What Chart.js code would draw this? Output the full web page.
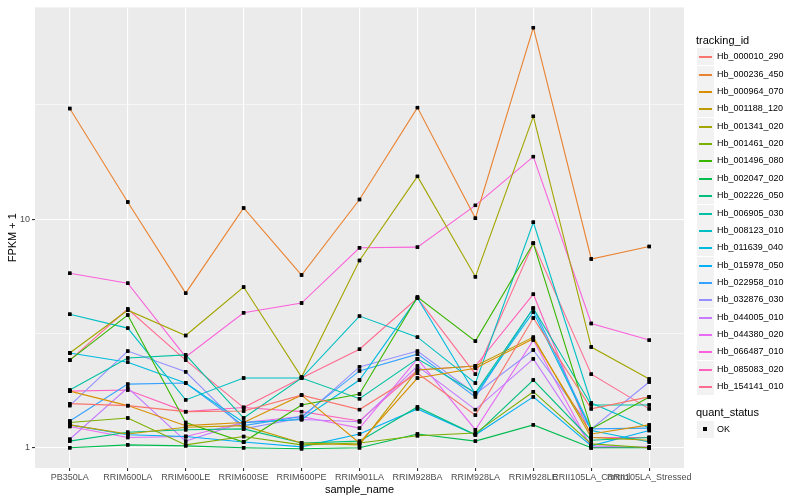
<!DOCTYPE html>
<html>
<head>
<meta charset="utf-8">
<script src="https://cdn.jsdelivr.net/npm/chart.js@4.4.1/dist/chart.umd.min.js"></script>
<style>
html, body { margin: 0; padding: 0; background: #fff; }
#wrap { position: relative; width: 800px; height: 500px; font-family: "Liberation Sans", Arial, sans-serif; }
#chart { position: absolute; left: 0; top: 0; }
.ttl { position: absolute; left: 696px; font-size: 11px; line-height: 13px; color: #000; white-space: nowrap; }
.key { position: absolute; left: 697px; width: 17px; height: 17px; background: #F2F2F2; }
.key span { position: absolute; left: 2px; right: 2px; top: 8px; height: 1.5px; }
.key b { position: absolute; left: 6px; top: 6px; width: 4px; height: 4px; background: #000; }
.lab { position: absolute; left: 717px; font-size: 9px; line-height: 12px; color: #000; white-space: nowrap; }
</style>
</head>
<body>
<div id="wrap">
  <canvas id="chart" width="800" height="500"></canvas>
  <div id="legend"></div>
</div>
<script>
/* data */
const categories = ['PB350LA', 'RRIM600LA', 'RRIM600LE', 'RRIM600SE', 'RRIM600PE', 'RRIM901LA',
  'RRIM928BA', 'RRIM928LA', 'RRIM928LE', 'RRII105LA_Control', 'RRII105LA_Stressed'];

const hb_000010_290 = [1.56, 1.53, 1.44, 1.45, 1.70, 1.47, 2.12, 1.39, 3.70, 1.48, 1.67];
const hb_000236_450 = [30.5, 11.9, 4.75, 11.2, 5.7, 12.2, 30.8, 10.1, 68.9, 6.7, 7.6];
const hb_000964_070 = [1.77, 1.53, 1.25, 1.29, 1.70, 1.05, 2.02, 2.23, 3.00, 1.15, 1.26];
const hb_001188_120 = [1.26, 1.15, 1.23, 1.25, 1.05, 1.03, 2.19, 2.28, 3.05, 1.11, 1.08];
const hb_001341_020 = [2.60, 4.00, 3.10, 5.05, 2.04, 6.6, 15.4, 5.6, 28.2, 2.76, 2.00];
const hb_001461_020 = [1.29, 1.35, 1.03, 1.12, 1.03, 1.05, 1.13, 1.16, 1.76, 1.04, 1.00];
const hb_001496_080 = [2.42, 3.81, 1.29, 1.06, 1.54, 1.72, 4.57, 2.93, 7.85, 1.21, 1.67];
const hb_002047_020 = [1.00, 1.03, 1.02, 1.00, 0.99, 1.00, 1.15, 1.07, 1.26, 1.00, 1.00];
const hb_002226_050 = [1.07, 1.17, 1.20, 1.21, 1.05, 1.07, 1.51, 1.14, 1.98, 1.08, 1.11];
const hb_006905_030 = [1.79, 2.47, 2.55, 1.35, 2.02, 1.64, 2.45, 1.74, 4.08, 1.54, 1.54];
const hb_008123_010 = [3.84, 3.34, 1.62, 2.02, 2.02, 3.77, 3.05, 1.92, 9.7, 1.57, 1.22];
const hb_011639_040 = [2.60, 2.37, 1.92, 1.29, 1.33, 1.98, 4.52, 1.72, 3.93, 1.19, 1.06];
const hb_015978_050 = [1.26, 1.14, 1.12, 1.06, 1.01, 1.15, 1.48, 1.14, 1.67, 1.02, 1.19];
const hb_022958_010 = [1.31, 1.90, 1.92, 1.25, 1.37, 2.17, 2.57, 1.67, 4.08, 1.21, 1.22];
const hb_032876_030 = [1.53, 2.65, 2.15, 1.21, 1.35, 2.26, 2.65, 1.72, 2.68, 1.21, 1.94];
const hb_044005_010 = [1.09, 1.83, 1.07, 1.29, 1.33, 1.30, 2.28, 1.47, 2.45, 1.02, 1.00];
const hb_044380_020 = [1.24, 1.11, 1.12, 1.29, 1.37, 1.22, 2.45, 1.20, 2.96, 1.00, 1.01];
const hb_066487_010 = [5.8, 5.25, 2.50, 3.90, 4.30, 7.5, 7.55, 11.5, 18.8, 3.50, 2.96];
const hb_085083_020 = [1.77, 1.79, 1.44, 1.50, 1.44, 1.31, 2.19, 2.28, 4.70, 1.11, 1.11];
const hb_154141_010 = [2.42, 4.05, 2.42, 1.50, 2.02, 2.70, 4.52, 2.10, 7.85, 2.10, 1.48];

const trackingIds = ['Hb_000010_290', 'Hb_000236_450', 'Hb_000964_070', 'Hb_001188_120', 'Hb_001341_020',
  'Hb_001461_020', 'Hb_001496_080', 'Hb_002047_020', 'Hb_002226_050', 'Hb_006905_030',
  'Hb_008123_010', 'Hb_011639_040', 'Hb_015978_050', 'Hb_022958_010', 'Hb_032876_030',
  'Hb_044005_010', 'Hb_044380_020', 'Hb_066487_010', 'Hb_085083_020', 'Hb_154141_010'];
const seriesValues = [hb_000010_290, hb_000236_450, hb_000964_070, hb_001188_120, hb_001341_020,
  hb_001461_020, hb_001496_080, hb_002047_020, hb_002226_050, hb_006905_030,
  hb_008123_010, hb_011639_040, hb_015978_050, hb_022958_010, hb_032876_030,
  hb_044005_010, hb_044380_020, hb_066487_010, hb_085083_020, hb_154141_010];

const yTickValues = [1, 10];
const yMinorValues = [Math.sqrt(10), Math.sqrt(1000)];
const quantStatus = ['OK'];

/* ggplot hue palette */
const palette = ['#F8766D', '#EA8331', '#D89000', '#C09B00', '#A3A500', '#7CAE00', '#39B600', '#00BB4E',
  '#00BF7D', '#00C1A3', '#00BFC4', '#00BAE0', '#00B0F6', '#35A2FF', '#9590FF', '#C77CFF',
  '#E76BF3', '#FA62DB', '#FF62BC', '#FF6C91'];

const FONT = '"Liberation Sans", Arial, sans-serif';

const datasets = trackingIds.map((id, k) => ({
  label: id,
  data: seriesValues[k].map((v, i) => ({ x: i, y: v })),
  borderColor: palette[k],
  borderWidth: 1.1,
  pointStyle: 'rect',
  pointRadius: 2.4,
  pointBackgroundColor: '#000',
  pointBorderWidth: 0,
  tension: 0,
  fill: false,
}));

// grey panel behind the plot
const panelBg = {
  id: 'panelBg',
  beforeDraw(chart) {
    const { ctx, chartArea: a } = chart;
    ctx.save();
    ctx.fillStyle = '#EBEBEB';
    ctx.fillRect(a.left, a.top, a.right - a.left, a.bottom - a.top);
    ctx.restore();
  }
};

// points go on top of every line, like geom_point after geom_line
const pointsOnTop = {
  id: 'pointsOnTop',
  afterDatasetsDraw(chart) {
    const ctx = chart.ctx;
    chart.data.datasets.forEach((d, k) => {
      chart.getDatasetMeta(k).data.forEach(p => p.draw(ctx));
    });
  }
};

new Chart(document.getElementById('chart'), {
  type: 'line',
  data: { datasets },
  plugins: [panelBg, pointsOnTop],
  options: {
    responsive: false,
    animation: false,
    layout: { padding: { left: 0, right: 116, top: 5, bottom: 0 } },
    plugins: { legend: { display: false }, tooltip: { enabled: false } },
    scales: {
      x: {
        type: 'linear',
        bounds: 'data',
        min: -0.6,
        max: categories.length - 0.4,
        afterBuildTicks: s => { s.ticks = categories.map((c, i) => ({ value: i })); },
        afterFit: s => { s.height = 32; },
        ticks: {
          autoSkip: false, maxRotation: 0, minRotation: 0, padding: 1,
          color: '#4D4D4D', font: { family: FONT, size: 9 },
          callback: v => categories[v],
        },
        grid: { color: '#FFFFFF', lineWidth: 1.1, tickColor: '#333333', tickLength: 3 },
        border: { display: false },
        title: { display: true, text: 'sample_name', color: '#000', font: { family: FONT, size: 11 },
          padding: { top: 0, bottom: 3 } },
      },
      y: {
        type: 'logarithmic',
        bounds: 'data',
        min: 0.816,
        max: 84.5,
        afterBuildTicks: s => {
          s.ticks = [...yTickValues, ...yMinorValues].sort((a, b) => a - b).map(v => ({ value: v }));
        },
        afterFit: s => { s.width = 35; },
        ticks: {
          autoSkip: false, padding: 2,
          color: '#4D4D4D', font: { family: FONT, size: 9 },
          callback: v => yTickValues.includes(v) ? String(v) : '',
        },
        grid: {
          color: '#FFFFFF',
          lineWidth: c => yTickValues.includes(c.tick && c.tick.value) ? 1.1 : 0.55,
          tickColor: c => yTickValues.includes(c.tick && c.tick.value) ? '#333333' : 'rgba(0,0,0,0)',
          tickLength: 3,
        },
        border: { display: false },
        title: { display: true, text: 'FPKM + 1', color: '#000', font: { family: FONT, size: 11 },
          padding: { top: 6, bottom: 0 } },
      },
    },
  },
});

/* legend */
const legend = document.getElementById('legend');
let html = '<div class="ttl" style="top:34px">tracking_id</div>';
trackingIds.forEach((id, k) => {
  const top = Math.round(56.7 + k * 17.37 - 8.5);
  html += `<div class="key" style="top:${top}px"><span style="background:${palette[k]}"></span></div>`;
  html += `<div class="lab" style="top:${top + 2}px">${id}</div>`;
});
html += '<div class="ttl" style="top:406px">quant_status</div>';
quantStatus.forEach((q, k) => {
  const top = Math.round(429 + k * 17.37 - 8.5);
  html += `<div class="key" style="top:${top}px"><b></b></div>`;
  html += `<div class="lab" style="top:${top + 2}px">${q}</div>`;
});
legend.innerHTML = html;
</script>
</body>
</html>
